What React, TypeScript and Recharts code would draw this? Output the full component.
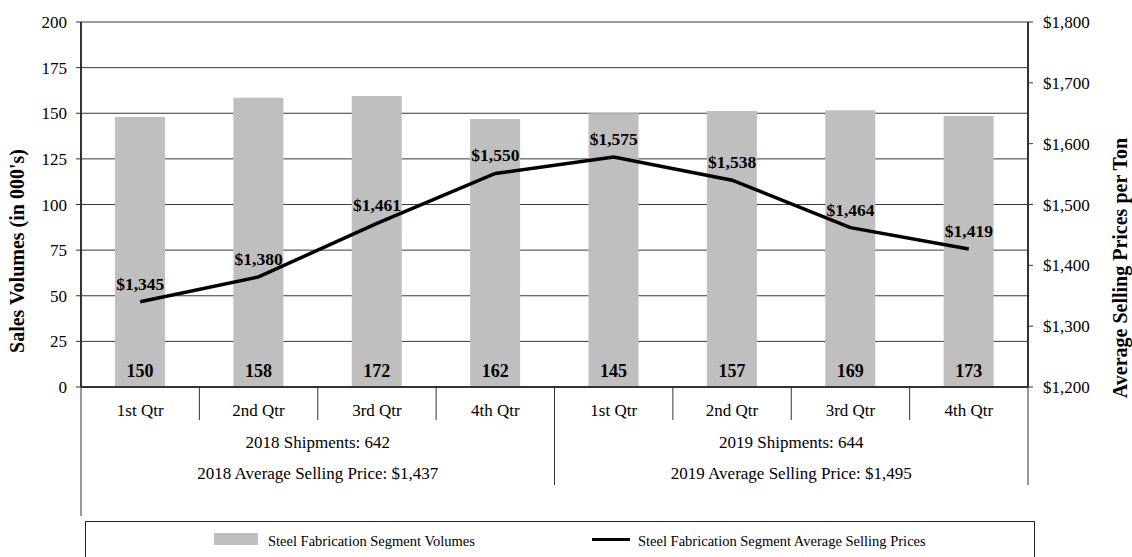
import React from 'react'
import {
  ComposedChart,
  Bar,
  Line,
  XAxis,
  YAxis,
  CartesianGrid,
  Legend,
  LabelList,
} from 'recharts'

const quarters = ['1st Qtr', '2nd Qtr', '3rd Qtr', '4th Qtr', '1st Qtr', '2nd Qtr', '3rd Qtr', '4th Qtr']
// bar heights as drawn in the picture, and the numbers printed on them
const volumes = [148, 158.5, 159.5, 146.8, 150, 151.2, 151.6, 148.5]
const volumeLabels = [150, 158, 172, 162, 145, 157, 169, 173]
// line positions as drawn, and the printed price labels
const prices = [1340, 1381, 1469, 1551, 1578, 1540, 1462, 1427]
const priceLabels = [1345, 1380, 1461, 1550, 1575, 1538, 1464, 1419]

const years = ['2018', '2019']
const yearShipments = [642, 644]
const yearAvgPrices = [1437, 1495]

const volumeTicks = [0, 25, 50, 75, 100, 125, 150, 175, 200]
const priceTicks = [1200, 1300, 1400, 1500, 1600, 1700, 1800]

const data = quarters.map((q, i) => ({
  q,
  vol: volumes[i],
  volLabel: volumeLabels[i],
  price: prices[i],
  priceLabel: priceLabels[i],
}))

const FONT = "'Liberation Serif', 'Times New Roman', serif"
const W = 1132
const H = 557
const LEFT_W = 81
const RIGHT_W = 104
const BAND = (W - LEFT_W - RIGHT_W) / quarters.length

const money = (v: number) => '$' + v.toLocaleString('en-US')

function QuarterTick(props: any) {
  const { x, y, payload, index } = props
  const line = '#333'
  const g = Math.floor(index / 4)
  return (
    <g>
      <text x={x} y={y + 29} textAnchor="middle" fontSize={17} fontFamily={FONT} fill="#000">
        {payload.value}
      </text>
      {index % 4 !== 3 && (
        <line x1={x + BAND / 2} x2={x + BAND / 2} y1={y} y2={y + 33} stroke={line} strokeWidth={1} />
      )}
      {index % 4 === 3 && (
        <line x1={x + BAND / 2} x2={x + BAND / 2} y1={y} y2={y + 98} stroke={line} strokeWidth={1} />
      )}
      {index === 0 && (
        <line x1={x - BAND / 2} x2={x - BAND / 2} y1={y} y2={y + 129} stroke={line} strokeWidth={1} />
      )}
      {index % 4 === 0 && (
        <g>
          <text x={x + 1.5 * BAND} y={y + 61} textAnchor="middle" fontSize={17} fontFamily={FONT} fill="#000">
            {`${years[g]} Shipments: ${yearShipments[g]}`}
          </text>
          <text x={x + 1.5 * BAND} y={y + 92} textAnchor="middle" fontSize={17} fontFamily={FONT} fill="#000">
            {`${years[g]} Average Selling Price: ${money(yearAvgPrices[g])}`}
          </text>
        </g>
      )}
    </g>
  )
}

function VolumeLabel(props: any) {
  const { x, y, width, height, value } = props
  return (
    <text
      x={x + width / 2}
      y={y + height - 10}
      textAnchor="middle"
      fontSize={18}
      fontWeight="bold"
      fontFamily={FONT}
      fill="#000"
    >
      {value}
    </text>
  )
}

function PriceLabel(props: any) {
  const { x, y, value } = props
  return (
    <text x={x} y={y - 12} textAnchor="middle" fontSize={17.5} fontWeight="bold" fontFamily={FONT} fill="#000">
      {money(value)}
    </text>
  )
}

function LegendBox() {
  const text = { position: 'absolute' as const, top: 10, fontSize: 14.5, fontFamily: FONT, lineHeight: '18px', color: '#000' }
  return (
    <div
      style={{
        position: 'relative',
        height: 36,
        boxSizing: 'border-box',
        borderTop: '1px solid #222',
        borderLeft: '1px solid #222',
        borderRight: '1px solid #222',
      }}
    >
      <div style={{ position: 'absolute', left: 128, top: 11, width: 44, height: 12, background: '#bfbfbf' }} />
      <div style={{ ...text, left: 182 }}>Steel Fabrication Segment Volumes</div>
      <div style={{ position: 'absolute', left: 506, top: 16, width: 38, height: 3, background: '#000' }} />
      <div style={{ ...text, left: 552 }}>Steel Fabrication Segment Average Selling Prices</div>
    </div>
  )
}

export default function App() {
  return (
    <div style={{ position: 'absolute', left: 0, top: 0, width: W, height: H, background: '#fff', fontFamily: FONT }}>
      <ComposedChart width={W} height={H} data={data} margin={{ top: 22, right: 0, left: 0, bottom: 0 }}>
        <CartesianGrid yAxisId="left" vertical={false} stroke="#3a3a3a" strokeWidth={1} />
        <XAxis
          dataKey="q"
          height={134}
          interval={0}
          tickLine={false}
          tickSize={0}
          tickMargin={0}
          axisLine={{ stroke: '#333', strokeWidth: 2 }}
          tick={<QuarterTick />}
        />
        <YAxis
          yAxisId="left"
          width={LEFT_W}
          domain={[0, 200]}
          ticks={volumeTicks}
          interval={0}
          tickSize={5}
          tickMargin={9}
          axisLine={{ stroke: '#333', strokeWidth: 2 }}
          tickLine={{ stroke: '#333' }}
          tick={{ fontSize: 17, fill: '#000', fontFamily: FONT }}
          label={{
            content: () => (
              <text
                x={17}
                y={251}
                transform="rotate(-90, 17, 251)"
                textAnchor="middle"
                dominantBaseline="central"
                fontSize={20}
                fontWeight="bold"
                fontFamily={FONT}
                fill="#000"
              >
                Sales Volumes (in 000's)
              </text>
            ),
          }}
        />
        <YAxis
          yAxisId="right"
          orientation="right"
          width={RIGHT_W}
          domain={[1200, 1800]}
          ticks={priceTicks}
          interval={0}
          tickSize={5}
          tickMargin={10}
          tickFormatter={money}
          axisLine={{ stroke: '#333', strokeWidth: 2 }}
          tickLine={{ stroke: '#333' }}
          tick={{ fontSize: 17, fill: '#000', fontFamily: FONT, textAnchor: 'start' }}
          label={{
            content: () => (
              <text
                x={1120}
                y={268}
                transform="rotate(-90, 1120, 268)"
                textAnchor="middle"
                dominantBaseline="central"
                fontSize={20}
                fontWeight="bold"
                fontFamily={FONT}
                fill="#000"
              >
                Average Selling Prices per Ton
              </text>
            ),
          }}
        />
        <Legend verticalAlign="bottom" content={<LegendBox />} wrapperStyle={{ left: 85, width: 950, bottom: 0 }} />
        <Bar yAxisId="left" dataKey="vol" fill="#bfbfbf" barSize={50} isAnimationActive={false}>
          <LabelList dataKey="volLabel" content={<VolumeLabel />} />
        </Bar>
        <Line
          yAxisId="right"
          type="linear"
          dataKey="price"
          stroke="#000"
          strokeWidth={3.5}
          dot={false}
          activeDot={false}
          isAnimationActive={false}
        >
          <LabelList dataKey="priceLabel" content={<PriceLabel />} />
        </Line>
      </ComposedChart>
    </div>
  )
}
